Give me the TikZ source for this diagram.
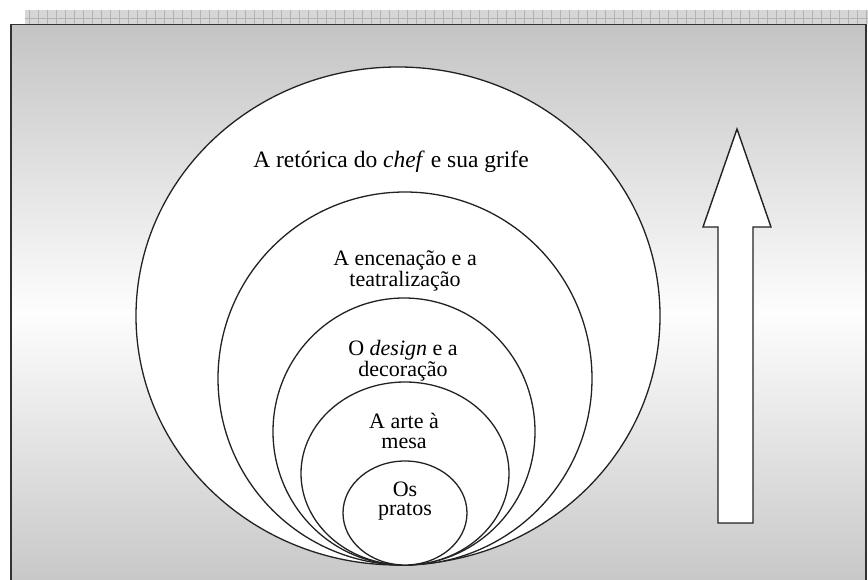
\documentclass[tikz,border=0pt]{standalone}
\usepackage{fontspec}
\setmainfont{Liberation Serif}
\definecolor{panelgray}{RGB}{196,196,196}
\definecolor{stripgray}{RGB}{214,214,214}
\definecolor{stripline}{RGB}{178,178,178}
\definecolor{inkline}{RGB}{34,34,34}
\definecolor{framegray}{RGB}{50,50,50}
\tikzset{
  ring/.style={fill=white, draw=inkline, line width=1.3pt},
  label/.style={text=black, align=center, inner sep=0pt,
    font=\fontsize{22}{19.5}\selectfont},
  bigarrow/.style={fill=white, draw=inkline, line width=1.4pt, line join=miter}
}
\begin{document}
\begin{tikzpicture}[x=1pt,y=-1pt]
\useasboundingbox (0,0) rectangle (868,580);
\clip (0,0) rectangle (868,580);

% ruler strip along the top
\fill[stripgray] (25,10) rectangle (868,24);
\foreach \i in {0,...,93}
  \draw[stripline, line width=0.8pt] (29+9*\i,10) -- ++(0,14);
\draw[stripline, line width=0.6pt] (25,18) -- (868,18);

% shaded panel
\path[top color=panelgray, bottom color=panelgray, middle color=white!97!panelgray,
      draw=framegray, line width=1.8pt] (11,24.5) rectangle (866,600);

% nested circles, all touching at the bottom
\filldraw[ring] (398,316) ellipse [x radius=262, y radius=249];
\filldraw[ring] (405,378.5) ellipse [x radius=187, y radius=186.5];
\filldraw[ring] (404,431.5) ellipse [x radius=131, y radius=133.5];
\filldraw[ring] (405,473.5) ellipse [x radius=104, y radius=91.5];
\filldraw[ring] (405,513) ellipse [x radius=62, y radius=52];

% labels
\node[label, anchor=base, font=\fontsize{23.5}{19.5}\selectfont] (retorica)
  at (391,168) {A retórica do \textit{chef} e sua grife};
\node[label] (encenacao) at (405,271) {A encenação e a\\teatralização};
\node[label] (design) at (403,361) {O \textit{design} e a\\decoração};
\node[label] (arte) at (404,431) {A arte à\\mesa};
\node[label] (pratos) at (405,501) {Os\\pratos};

% upward block arrow
\filldraw[bigarrow] (718,523) -- (718,227) -- (703,227) -- (737,129)
  -- (771,227) -- (753,227) -- (753,523) -- cycle;
\end{tikzpicture}
\end{document}
